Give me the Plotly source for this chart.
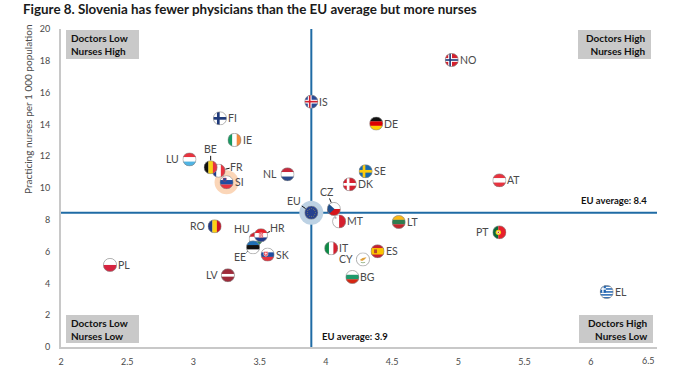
import base64, math
import plotly.graph_objects as go

# ---- data ----
countries = ["NO","IS","DE","FI","IE","LU","FR","BE","SI","NL","SE","DK","AT","CZ","MT","LT","PT","RO",
             "HU","HR","EE","SK","LV","PL","IT","CY","ES","BG","EL","EU"]
doctors = [4.95,3.89,4.38,3.20,3.31,2.97,3.19,3.13,3.25,3.71,4.30,4.18,5.31,4.06,4.10,4.55,5.31,3.16,
           3.47,3.51,3.45,3.56,3.26,2.37,4.04,4.28,4.39,4.20,6.12,3.89]
nurses = [18.05,15.43,14.05,14.38,13.02,11.80,11.09,11.30,10.36,10.86,11.05,10.23,10.48,8.68,7.90,7.86,7.21,7.59,
          6.79,7.03,6.27,5.81,4.51,5.16,6.21,5.51,6.02,4.40,3.46,8.45]
eu_avg_doctors = 3.89
eu_avg_nurses = 8.45
x_ticks = [2, 2.5, 3, 3.5, 4, 4.5, 5, 5.5, 6]
y_ticks = list(range(0, 21, 2))

# ---- geometry ----
W, H = 695, 367
L, R, T, B = 61, 657, 29, 347
X_RANGE = [2, 6.5]
Y_RANGE = [0, 20]
px_x = (R - L) / (X_RANGE[1] - X_RANGE[0])
px_y = (B - T) / (Y_RANGE[1] - Y_RANGE[0])
FLAG_PX = 14
TXT = "#4a4a4a"
FONT = "Lato"

# ---- flags ----
def h(*c):
    n = len(c)
    return "".join(f'<rect x="0" y="{i*100/n}" width="100" height="{100/n+.5}" fill="{k}"/>' for i, k in enumerate(c))
def v(*c):
    n = len(c)
    return "".join(f'<rect x="{i*100/n}" y="0" width="{100/n+.5}" height="100" fill="{k}"/>' for i, k in enumerate(c))
def cross(bg, c, inner=None):
    if inner:
        return (f'<rect width="100" height="100" fill="{bg}"/><rect x="24" width="28" height="100" fill="{c}"/><rect y="36" width="100" height="28" fill="{c}"/>'
                f'<rect x="32" width="12" height="100" fill="{inner}"/><rect y="44" width="100" height="12" fill="{inner}"/>')
    return f'<rect width="100" height="100" fill="{bg}"/><rect x="28" width="20" height="100" fill="{c}"/><rect y="40" width="100" height="20" fill="{c}"/>'
stars = "".join(f'<circle cx="{50+30*math.cos(a*math.pi/6):.1f}" cy="{50+30*math.sin(a*math.pi/6):.1f}" r="3.5" fill="#C9B23A"/>' for a in range(12))
FLAGS = {
 "NO": cross("#D5202E", "#FFFFFF", "#1F3A7A"),
 "IS": cross("#2A4A96", "#FFFFFF", "#D5202E"),
 "DE": h("#111111", "#DD0000", "#FFCE00"),
 "FI": cross("#FFFFFF", "#1F3A7A"),
 "IE": v("#169B62", "#FFFFFF", "#F58A3C"),
 "LU": h("#E8333F", "#FFFFFF", "#4FB4E4"),
 "FR": v("#1F3A8A", "#FFFFFF", "#E8333F"),
 "BE": v("#111111", "#F7D117", "#E8333F"),
 "SI": h("#FFFFFF", "#1F4EA1", "#E8333F") + '<path d="M24 18 h24 v20 q-12 14 -24 0 z" fill="#1F4EA1" stroke="#E8333F" stroke-width="3"/>',
 "NL": h("#C8283C", "#FFFFFF", "#2A4A8C"),
 "SE": cross("#1668B0", "#FCCB0E"),
 "DK": cross("#D5202E", "#FFFFFF"),
 "AT": h("#E8333F", "#FFFFFF", "#E8333F"),
 "CZ": '<rect width="100" height="50" fill="#FFFFFF"/><rect y="50" width="100" height="50" fill="#D7141A"/><path d="M0 0 L55 50 L0 100 z" fill="#1F4E8C"/>',
 "MT": v("#FFFFFF", "#D5202E") + '<rect x="16" y="16" width="14" height="14" fill="#B0B0B0"/>',
 "LT": h("#FDB913", "#2E7D4F", "#C1272D"),
 "PT": '<rect width="42" height="100" fill="#0B6A3A"/><rect x="42" width="58" height="100" fill="#E8202A"/><circle cx="42" cy="50" r="20" fill="#F7D117"/><circle cx="42" cy="50" r="10" fill="#FFFFFF"/><circle cx="42" cy="50" r="6" fill="#D5202E"/>',
 "RO": v("#1F3A8A", "#FCD116", "#CE1126"),
 "HU": h("#D5202E", "#FFFFFF", "#2E8B57"),
 "HR": h("#E8202A", "#FFFFFF", "#1F3A8A") + '<rect x="36" y="30" width="28" height="36" fill="#FFFFFF" stroke="#D5202E" stroke-width="3"/><rect x="40" y="34" width="8" height="9" fill="#D5202E"/><rect x="54" y="34" width="8" height="9" fill="#D5202E"/><rect x="47" y="43" width="8" height="9" fill="#D5202E"/><rect x="40" y="52" width="8" height="9" fill="#D5202E"/><rect x="54" y="52" width="8" height="9" fill="#D5202E"/>',
 "EE": h("#1F6FB5", "#111111", "#FFFFFF"),
 "SK": h("#FFFFFF", "#1F4EA1", "#E8333F") + '<path d="M22 26 h30 v28 q-15 18 -30 0 z" fill="#E8333F" stroke="#FFFFFF" stroke-width="4"/><rect x="34" y="32" width="6" height="24" fill="#FFFFFF"/><rect x="28" y="40" width="18" height="5" fill="#FFFFFF"/>',
 "LV": '<rect width="100" height="100" fill="#9E2B3A"/><rect y="40" width="100" height="20" fill="#FFFFFF"/>',
 "PL": h("#FFFFFF", "#D7233F"),
 "IT": v("#0E8A46", "#FFFFFF", "#D5202E"),
 "CY": '<rect width="100" height="100" fill="#FFFFFF"/><path d="M28 52 Q42 36 76 34 Q66 50 48 60 Q36 64 28 52 z" fill="#E0A13C"/><path d="M34 72 Q50 78 66 72" stroke="#6E9A5A" stroke-width="5" fill="none"/>',
 "ES": '<rect width="100" height="100" fill="#C8202E"/><rect y="26" width="100" height="48" fill="#FBC400"/><rect x="24" y="36" width="22" height="28" fill="#B5482A"/>',
 "BG": h("#FFFFFF", "#1E9A6C", "#D62612"),
 "EL": '<rect width="100" height="100" fill="#FFFFFF"/>' + "".join(f'<rect y="{y}" width="100" height="11" fill="#1F63B0"/>' for y in (0, 22, 44, 66, 88)) + '<rect width="44" height="55" fill="#1F63B0"/><rect x="17" width="10" height="55" fill="#FFFFFF"/><rect y="22" width="44" height="11" fill="#FFFFFF"/>',
 "EU": '<rect width="100" height="100" fill="#26418F"/>' + stars,
}
def flag_uri(code):
    svg = ('<svg xmlns="http://www.w3.org/2000/svg" width="104" height="104" viewBox="-2 -2 104 104">'
           '<defs><clipPath id="c"><circle cx="50" cy="50" r="50"/></clipPath></defs>'
           f'<g clip-path="url(#c)">{FLAGS[code]}</g>'
           '<circle cx="50" cy="50" r="49" fill="none" stroke="#8a8a8a" stroke-width="5"/></svg>')
    return "data:image/svg+xml;base64," + base64.b64encode(svg.encode()).decode()

# ---- label placement ----
SIDE_LEFT = {"LU","NL","RO","LV","PT","CY"}
LEADERS = {"BE":(0,-18),"FR":(18,-4),"HU":(-14,-10),"HR":(17,-7),"EE":(-13,10),"CZ":(-7,-17),"EU":(-17,-12)}

fig = go.Figure()
fig.add_trace(go.Scatter(x=[eu_avg_doctors, eu_avg_doctors], y=Y_RANGE, mode="lines",
                         line=dict(color="#1F6BA5", width=2), hoverinfo="skip", cliponaxis=False))
fig.add_trace(go.Scatter(x=X_RANGE, y=[eu_avg_nurses, eu_avg_nurses], mode="lines",
                         line=dict(color="#1F6BA5", width=2), hoverinfo="skip", cliponaxis=False))
i_si, i_eu = countries.index("SI"), countries.index("EU")
fig.add_trace(go.Scatter(x=[doctors[i_si]], y=[nurses[i_si]], mode="markers",
                         marker=dict(size=24, color="#FBD6B8", line=dict(width=0))))
fig.add_trace(go.Scatter(x=[doctors[i_eu]], y=[nurses[i_eu]], mode="markers",
                         marker=dict(size=24, color="#BDD2E4", line=dict(width=0))))
fig.add_trace(go.Scatter(x=doctors, y=nurses, mode="markers", text=countries,
                         marker=dict(size=FLAG_PX - 2, color="#DDDDDD", line=dict(width=0)), hoverinfo="text"))

images, ann = [], []
for c, xv, yv in zip(countries, doctors, nurses):
    images.append(dict(source=flag_uri(c), xref="x", yref="y", x=xv, y=yv,
                       sizex=FLAG_PX / px_x, sizey=FLAG_PX / px_y,
                       xanchor="center", yanchor="middle", sizing="contain", layer="above"))
    base = dict(x=xv, y=yv, xref="x", yref="y", text=c, font=dict(family=FONT, size=10.5, color=TXT))
    if c in LEADERS:
        ax, ay = LEADERS[c]
        ann.append(dict(base, showarrow=True, arrowhead=0, arrowwidth=1, arrowcolor="#111111",
                        ax=ax, ay=ay, standoff=7, borderpad=0))
    elif c in SIDE_LEFT:
        ann.append(dict(base, showarrow=False, xanchor="right", xshift=-8))
    else:
        ann.append(dict(base, showarrow=False, xanchor="left", xshift=6))

def px(xp): return (xp - L) / (R - L)
def py(yp): return (B - yp) / (B - T)

shapes = []
QUAD = [("Doctors Low<br>Nurses High", 66, 139, 30, 59, "left"),
        ("Doctors High<br>Nurses High", 578, 651, 30, 59, "right"),
        ("Doctors Low<br>Nurses Low", 66, 139, 315, 343, "left"),
        ("Doctors High<br>Nurses Low", 579, 653, 315, 343, "right")]
for text, x0, x1, y0, y1, al in QUAD:
    shapes.append(dict(type="rect", xref="paper", yref="paper", x0=px(x0), x1=px(x1), y0=py(y1), y1=py(y0),
                       fillcolor="#C9C9C9", line=dict(width=0), layer="below"))
    ann.append(dict(xref="paper", yref="paper", showarrow=False, align=al, text=f"<b>{text}</b>",
                    x=px(x0 + 3) if al == "left" else px(x1 - 3), xanchor=al,
                    y=py((y0 + y1) / 2), yanchor="middle",
                    font=dict(family=FONT, size=10, color="#111111")))

ann += [
    dict(xref="paper", yref="paper", x=px(579), y=py(200), xanchor="left", yanchor="middle", showarrow=False,
         text="<b>EU average: 8.4</b>", font=dict(family=FONT, size=9.5, color="#111111")),
    dict(xref="paper", yref="paper", x=px(320), y=py(336), xanchor="left", yanchor="middle", showarrow=False,
         text="<b>EU average: 3.9</b>", font=dict(family=FONT, size=9.5, color="#111111")),
    dict(xref="paper", yref="paper", x=px(657), y=py(360), xanchor="right", yanchor="middle", showarrow=False,
         text="6.5", font=dict(family=FONT, size=9, color=TXT)),
    dict(xref="paper", yref="paper", x=px(28), y=py(110), xanchor="center", yanchor="middle", showarrow=False,
         textangle=-90, text="Practicing nurses per 1 000 population", font=dict(family=FONT, size=10, color=TXT)),
    dict(xref="paper", yref="paper", x=px(21), y=py(9), xanchor="left", yanchor="middle", showarrow=False,
         text="<b>Figure 8. Slovenia has fewer physicians than the EU average but more nurses</b>",
         font=dict(family=FONT, size=13.4, color="#1a1a1a")),
]

fig.update_layout(
    width=W, height=H, showlegend=False, plot_bgcolor="white", paper_bgcolor="white",
    margin=dict(l=L, r=W - R, t=T, b=H - B, pad=0, autoexpand=False),
    images=images, annotations=ann, shapes=shapes,
    xaxis=dict(range=X_RANGE, tickvals=x_ticks, ticktext=[str(t) for t in x_ticks], showgrid=False, zeroline=False,
               showline=True, linecolor="#C8C8C8", linewidth=2, ticks="", ticklabelstandoff=5,
               tickfont=dict(family=FONT, size=9, color=TXT)),
    yaxis=dict(range=Y_RANGE, tickvals=y_ticks, showgrid=False, zeroline=False,
               showline=True, linecolor="#C8C8C8", linewidth=2, ticks="", ticklabelstandoff=7,
               tickfont=dict(family=FONT, size=9, color=TXT)),
)
fig.write_html("out.html", config=dict(displayModeBar=False),
               post_script="document.body.style.margin='0';document.body.style.overflow='hidden';")
